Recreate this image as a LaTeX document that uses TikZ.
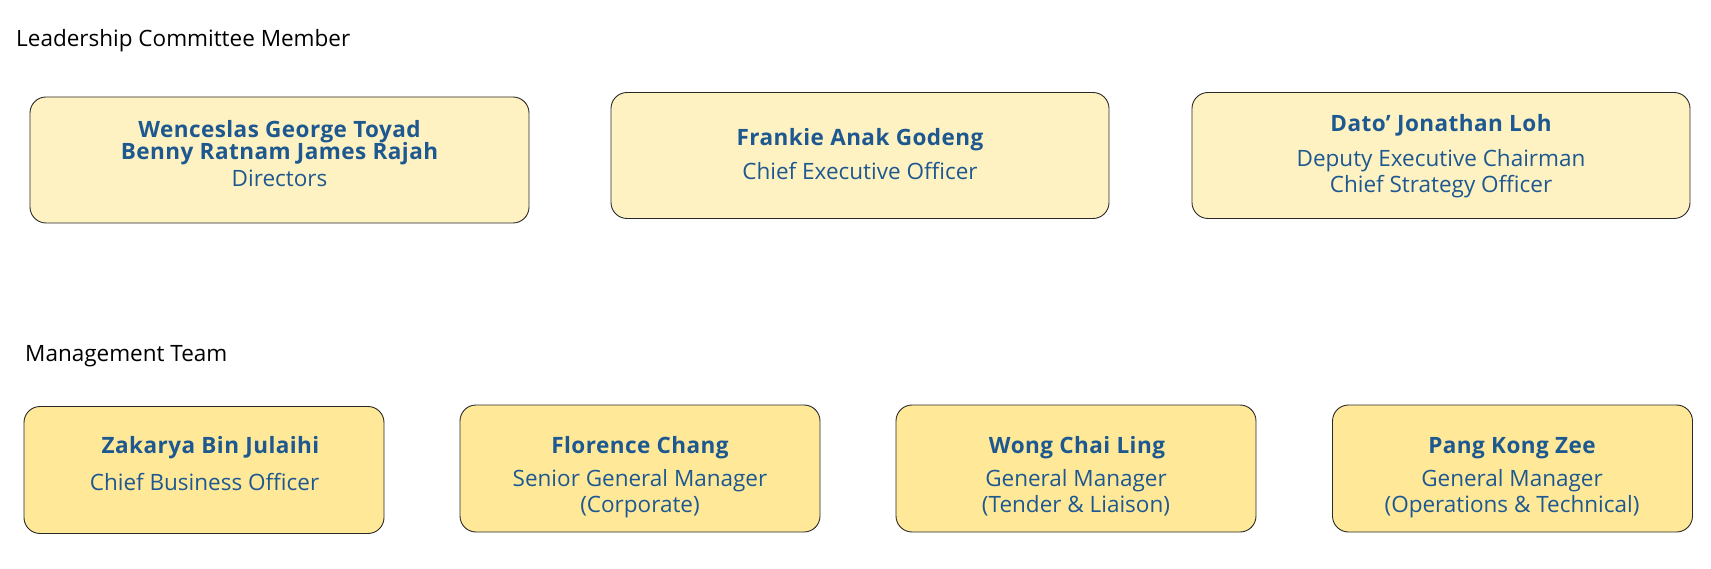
\documentclass[tikz,border=0pt]{standalone}
\usepackage{fontspec}
\setmainfont{Open Sans}[BoldFeatures={LetterSpace=2.0}]
\definecolor{txtblue}{HTML}{1D5890}
\definecolor{lightfill}{HTML}{FFF2C2}
\definecolor{darkfill}{HTML}{FFE999}
\definecolor{edge}{HTML}{2A2A2A}
\begin{document}
\begin{tikzpicture}[x=1pt,y=-1pt,
  card/.style={draw=edge,line width=0.9pt,rounded corners=16pt,inner sep=0pt},
  topcard/.style={card,fill=lightfill},
  botcard/.style={card,fill=darkfill},
  tl/.style={anchor=base,inner sep=0pt,text=txtblue,font=\fontsize{22.5}{27}\selectfont},
  nm/.style={tl,font=\fontsize{22.5}{27}\selectfont\bfseries},
  ttl/.style={anchor=base west,inner sep=0pt,text=black,font=\fontsize{22.5}{27}\selectfont}]
\useasboundingbox[fill=white] (0,0) rectangle (1711,569);
% titles
\node[ttl] (t1) at (16,47) {Leadership Committee Member};
\node[ttl] (t2) at (25,362) {Management Team};
% top row
\node[topcard,minimum width=499pt,minimum height=126pt] (b1) at (279.5,160) {};
\node[topcard,minimum width=498pt,minimum height=126pt] (b2) at (860,155.5) {};
\node[topcard,minimum width=498pt,minimum height=126pt] (b3) at (1441,155.5) {};
\node[nm] (b1a) at (279.5,137.5) {Wenceslas George Toyad};
\node[nm] (b1b) at (279.5,159.5) {Benny Ratnam James Rajah};
\node[tl] (b1c) at (279.5,186.5) {Directors};
\node[nm] (b2a) at (860,145.5) {Frankie Anak Godeng};
\node[tl] (b2b) at (860,180) {Chief Executive Officer};
\node[nm] (b3a) at (1441,132) {Dato’ Jonathan Loh};
\node[tl] (b3b) at (1441,167) {Deputy Executive Chairman};
\node[tl] (b3c) at (1441,193) {Chief Strategy Officer};
% bottom row
\node[botcard,minimum width=360pt,minimum height=127pt] (m1) at (204,470) {};
\node[botcard,minimum width=360pt,minimum height=127pt] (m2) at (640,468.5) {};
\node[botcard,minimum width=360pt,minimum height=127pt] (m3) at (1076,468.5) {};
\node[botcard,minimum width=360pt,minimum height=127pt] (m4) at (1512.5,468.5) {};
\node[nm] (m1a) at (210.5,453) {Zakarya Bin Julaihi};
\node[tl] (m1b) at (204.5,490) {Chief Business Officer};
\node[nm] (m2a) at (640,453) {Florence Chang};
\node[tl] (m2b) at (640,486) {Senior General Manager};
\node[tl] (m2c) at (640,512) {(Corporate)};
\node[nm] (m3a) at (1077,453) {Wong Chai Ling};
\node[tl] (m3b) at (1076,486) {General Manager};
\node[tl] (m3c) at (1076,512) {(Tender \& Liaison)};
\node[nm] (m4a) at (1512,453) {Pang Kong Zee};
\node[tl] (m4b) at (1512,486) {General Manager};
\node[tl] (m4c) at (1512,512) {(Operations \& Technical)};
\end{tikzpicture}
\end{document}
